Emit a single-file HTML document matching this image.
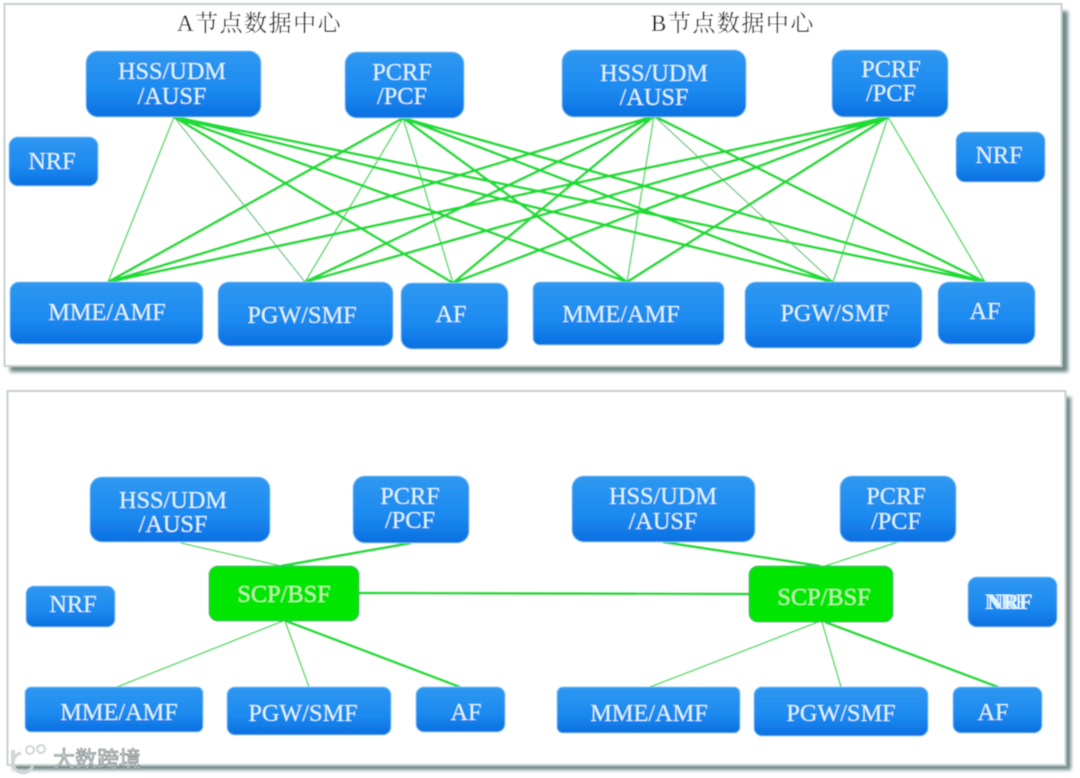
<!DOCTYPE html>
<html>
<head>
<meta charset="utf-8">
<style>
html,body{margin:0;padding:0;background:#fff;width:1080px;height:778px;overflow:hidden}
svg{display:block}
text{font-family:"Liberation Serif","Noto Serif CJK SC",serif;font-size:24.3px;text-anchor:middle;fill:#dff4ff}
.t{fill:#111;font-size:23px;text-anchor:start;letter-spacing:1.5px}
.s{fill:#c4f2b4}
.w{fill:#d8dcdc;stroke:#7e8a8a;stroke-width:.8px;font-family:"Liberation Sans","Noto Sans CJK SC",sans-serif;font-size:22px;text-anchor:start}
.b{fill:url(#bg);stroke:#7cc4f4;stroke-width:1}
.g{fill:#00e600;stroke:#30b060;stroke-width:1}
.k{stroke:#1cdc36;stroke-width:2.7;fill:none}
.h{stroke:#35da50;stroke-width:1.4;fill:none}
.p{stroke:#7cc88e;stroke-width:1.4;fill:none}
</style>
</head>
<body>
<svg width="1080" height="778" viewBox="0 0 1080 778" xmlns="http://www.w3.org/2000/svg">
<defs>
<linearGradient id="bg" x1="0" y1="0" x2="0" y2="1">
<stop offset="0" stop-color="#2f98f0"/>
<stop offset=".6" stop-color="#1c8af0"/>
<stop offset="1" stop-color="#0a6fe0"/>
</linearGradient>
<filter id="soft" x="-2%" y="-2%" width="104%" height="104%"><feGaussianBlur stdDeviation=".45"/></filter>
<filter id="sh" x="-3%" y="-5%" width="106%" height="110%"><feGaussianBlur stdDeviation="1.8"/></filter>
</defs>
<g filter="url(#soft)">
<!-- panels -->
<rect x="10" y="11" width="1058" height="361" fill="#728a8a" filter="url(#sh)"/>
<rect x="4.5" y="4" width="1057" height="362" fill="#fff" stroke="#c6d0ce" stroke-width="2"/>
<rect x="13" y="397" width="1058" height="373" fill="#728a8a" filter="url(#sh)"/>
<rect x="7.5" y="391" width="1058" height="374" fill="#fff" stroke="#c6d0ce" stroke-width="2"/>

<!-- top connectors -->
<g class="h">
<path d="M174 117L108 282M403 118L305 282M403 118L453 283M654 116L627 282M888 117L833 282M888 117L985 282"/>
</g>
<g class="p">
<path d="M174 117L305 282M654 116L833 282"/>
</g>
<g class="k">
<path d="M174 117L453 283M174 117L627 282M174 117L833 282M174 117L985 282"/>
<path d="M403 118L108 282M403 118L627 282M403 118L833 282M403 118L985 282"/>
<path d="M654 116L108 282M654 116L305 282M654 116L453 283M654 116L985 282"/>
<path d="M888 117L108 282M888 117L305 282M888 117L453 283M888 117L627 282"/>
</g>

<!-- bottom connectors -->
<g class="h">
<path d="M181 543L281 566M283 621L117 687M285 621L309 687M898 542L825 566M818 622L650 687M822 622L841 687"/>
</g>
<g class="k">
<path d="M411 543L281 566M286 621L460 687M359 593L749 594M663 542L820 566M825 622L998 687"/>
</g>

<!-- top nodes -->
<rect class="b" x="86" y="51" width="175" height="66" rx="12"/>
<rect class="b" x="345" y="52" width="119" height="66" rx="12"/>
<rect class="b" x="562" y="50" width="184" height="67" rx="12"/>
<rect class="b" x="832" y="50" width="116" height="67" rx="12"/>
<rect class="b" x="9" y="137" width="89" height="49" rx="9"/>
<rect class="b" x="956" y="132" width="89" height="50" rx="9"/>
<rect class="b" x="10" y="282" width="193" height="62" rx="9"/>
<rect class="b" x="218" y="282" width="175" height="64" rx="11"/>
<rect class="b" x="401" y="283" width="107" height="66" rx="11"/>
<rect class="b" x="533" y="282" width="191" height="63" rx="7"/>
<rect class="b" x="745" y="282" width="177" height="66" rx="11"/>
<rect class="b" x="938" y="282" width="97" height="62" rx="11"/>

<!-- bottom nodes -->
<rect class="b" x="90" y="477" width="180" height="65" rx="12"/>
<rect class="b" x="353" y="476" width="116" height="67" rx="12"/>
<rect class="b" x="572" y="476" width="183" height="66" rx="12"/>
<rect class="b" x="840" y="476" width="116" height="66" rx="12"/>
<rect class="b" x="26" y="586" width="89" height="41" rx="8"/>
<rect class="b" x="968" y="577" width="89" height="50" rx="9"/>
<rect class="g" x="209" y="566" width="150" height="55" rx="9"/>
<rect class="g" x="749" y="566" width="144" height="56" rx="9"/>
<rect class="b" x="25" y="687" width="178" height="45" rx="6"/>
<rect class="b" x="227" y="687" width="164" height="48" rx="8"/>
<rect class="b" x="416" y="687" width="89" height="45" rx="8"/>
<rect class="b" x="557" y="687" width="183" height="46" rx="6"/>
<rect class="b" x="754" y="687" width="174" height="49" rx="8"/>
<rect class="b" x="953" y="687" width="89" height="46" rx="8"/>

<!-- titles -->
<text class="t" x="177" y="31">A节点数据中心</text>
<text class="t" x="651" y="31">B节点数据中心</text>

<!-- top labels -->
<text x="172" y="79">HSS/UDM</text>
<text x="172" y="104">/AUSF</text>
<text x="402" y="80">PCRF</text>
<text x="402" y="104">/PCF</text>
<text x="654" y="81">HSS/UDM</text>
<text x="654" y="105">/AUSF</text>
<text x="891" y="77">PCRF</text>
<text x="891" y="101">/PCF</text>
<text x="52" y="169">NRF</text>
<text x="999" y="163">NRF</text>
<text x="107" y="320">MME/AMF</text>
<text x="302" y="323">PGW/SMF</text>
<text x="451" y="322">AF</text>
<text x="621" y="322">MME/AMF</text>
<text x="835" y="321">PGW/SMF</text>
<text x="985" y="319">AF</text>

<!-- bottom labels -->
<text x="173" y="508">HSS/UDM</text>
<text x="173" y="532">/AUSF</text>
<text x="410" y="504">PCRF</text>
<text x="410" y="528">/PCF</text>
<text x="663" y="504">HSS/UDM</text>
<text x="663" y="529">/AUSF</text>
<text x="896" y="504">PCRF</text>
<text x="896" y="529">/PCF</text>
<text x="73" y="612">NRF</text>
<text x="1006" y="609" style="font-size:22px">NRF</text>
<text x="1010" y="609" style="font-size:22px;font-weight:bold">NRF</text>
<text class="s" x="284" y="602">SCP/BSF</text>
<text class="s" x="824" y="605">SCP/BSF</text>
<text x="119" y="720">MME/AMF</text>
<text x="303" y="721">PGW/SMF</text>
<text x="466" y="720">AF</text>
<text x="649" y="721">MME/AMF</text>
<text x="841" y="721">PGW/SMF</text>
<text x="993" y="720">AF</text>

<!-- watermark -->
<g fill="none" stroke="#cfd4d4" stroke-width="3">
<path d="M13 750L13 767" stroke-width="4"/>
<path d="M21 753A10 10 0 1 0 33 764"/>
<circle cx="30" cy="750" r="4" stroke-width="2"/>
<circle cx="41" cy="749" r="4" stroke-width="2"/>
</g>
<text class="w" x="53" y="767">大数跨境</text>
</g>
</svg>
</body>
</html>
